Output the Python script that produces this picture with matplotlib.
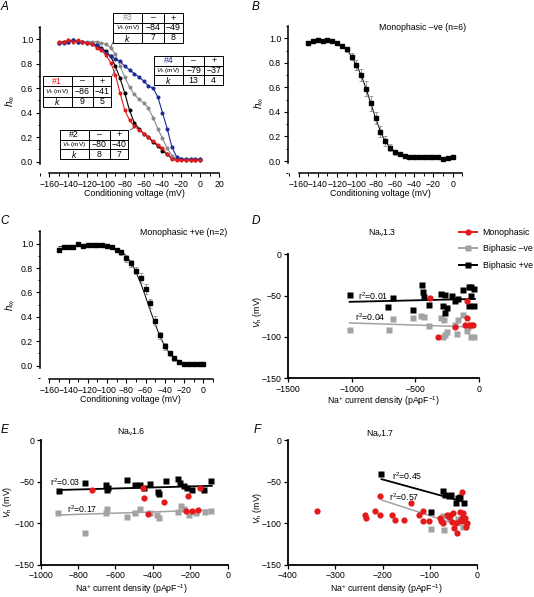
import matplotlib
matplotlib.use('Agg')
import matplotlib.pyplot as plt
from matplotlib.lines import Line2D
from matplotlib.ticker import MultipleLocator, FormatStrFormatter

# ---------------- data ----------------
# conditioning voltages (mV), panels A-C
volt = [-150, -145, -140, -135, -130, -125, -120, -115, -110, -105,
        -100, -95, -90, -85, -80, -75, -70, -65, -60, -55, -50, -45, -40,
        -35, -30, -25, -20, -15, -10, -5, 0]

# panel A, four cells
cell1 = [.98, .98, .99, .98, .99, .98, .97, .96, .93, .91,
         .87, .81, .71, .56, .42, .34, .29, .26, .23, .20, .17, .14, .11, .06, .02, .01,
         .01, .01, .01, .01, .01]
cell2 = [.97, .98, .98, .99, .98, .98, .97, .97, .95, .93,
         .90, .86, .78, .68, .56, .42, .32, .27, .23, .20, .16, .13, .09, .06, .03, .02,
         .02, .01, .01, .01, .01]
cell3 = [.98, .98, .99, .99, .98, .98, .98, .98, .98, .97,
         .96, .93, .88, .78, .69, .61, .55, .51, .48, .44, .36, .27, .19, .11, .05, .02,
         .02, .02, .02, .02, .02]
cell4 = [.97, .97, .98, .99, .98, .98, .97, .96, .95, .92,
         .89, .86, .84, .82, .78, .75, .72, .69, .66, .62, .60, .53, .40, .27, .12, .04,
         .02, .02, .02, .02, .02]
tables = {
    '#1': (['−86', '−41'], ['9', '5']),
    '#2': (['−80', '−40'], ['8', '7']),
    '#3': (['−84', '−49'], ['7', '8']),
    '#4': (['−79', '−37'], ['13', '4']),
}

# panel B, monophasic -ve (mean, sem)
mono_neg = [.96, .98, .99, .98, .985, .98, .96, .94, .91, .85,
            .78, .70, .59, .47, .35, .24, .16, .11, .07, .06, .045, .035, .03, .03, .03, .03,
            .03, .03, .02, .025, .03]
mono_neg_sem = [.01, .01, .01, .01, .01, .01, .01, .015, .02, .03,
                .04, .05, .06, .06, .05, .045, .04, .03, .02, .015, .01, .005, .005, .005,
                .005, .005, .005, .005, .005, .005, .005]

# panel C, monophasic +ve (mean, sem, fit)
mono_pos = [.95, .97, .97, .97, .995, .98, .99, .99, .99, .99,
            .985, .97, .95, .93, .88, .84, .78, .72, .63, .51, .37, .25, .16, .10, .06, .03,
            .015, .012, .012, .012, .012]
mono_pos_sem = [.01, .01, .01, .01, .01, .01, .01, .01, .01, .01,
                .01, .01, .01, .02, .03, .03, .03, .04, .04, .04, .04, .03, .03, .02, .02, .01,
                .005, .005, .005, .005, .005]
mono_pos_fit = [.975, .977, .979, .98, .98, .98, .98, .98, .98, .979,
                .976, .97, .957, .935, .90, .845, .77, .675, .565, .45, .34, .24, .16, .10, .06,
                .035, .02, .015, .012, .011, .01]

# panel D, Nav1.3
d_mono_x = [-385, -320, -190, -110, -95, -90, -75, -60, -45]
d_mono_y = [-53, -100, -88, -86, -77, -57, -86, -85, -85]
d_neg_x = [-1015, -708, -674, -517, -452, -432, -393, -297, -276, -284, -263, -249, -184,
           -171, -160, -121, -94, -87, -60, -35]
d_neg_y = [-92, -92, -78, -77, -75, -76, -87, -77, -79, -100, -98, -94, -86, -96, -80, -73,
           -93, -88, -100, -100]
d_pos_x = [-1013, -711, -672, -515, -449, -441, -430, -393, -297, -281, -268, -263, -249,
           -210, -184, -160, -126, -76, -58, -60, -76, -35, -35]
d_pos_y = [-49, -64, -53, -67, -37, -46, -52, -61, -48, -62, -49, -71, -65, -50, -57, -54,
           -43, -40, -40, -51, -62, -42, -63]
d_fit_x = [-1015, -30]
d_fit_pos = [-57.5, -54]
d_fit_neg = [-83, -88]

# panel E, Nav1.6
e_mono_x = [-724, -451, -447, -339, -425, -211, -225, -193, -157, -148]
e_mono_y = [-60, -58, -70, -74, -89, -67, -85, -85, -84, -58]
e_neg_x = [-906, -763, -652, -645, -537, -496, -467, -415, -379, -370, -266, -250, -232,
           -205, -171, -123, -87]
e_neg_y = [-87, -111, -87, -83, -92, -87, -83, -88, -90, -93, -86, -79, -83, -90, -87, -86, -85]
e_pos_x = [-900, -763, -652, -647, -641, -537, -496, -469, -445, -415, -374, -368, -330,
           -264, -255, -232, -220, -193, -127, -91]
e_pos_y = [-61, -51, -54, -60, -57, -48, -54, -54, -58, -53, -62, -65, -49, -47, -52, -55,
           -57, -60, -60, -49]
e_fit_x = [-905, -85]
e_fit_pos = [-60, -55]
e_fit_neg = [-90, -84]

# panel F, Nav1.7
f_mono_x = [-338, -236, -235, -216, -205, -205, -180, -173, -155, -140, -123, -114, -114,
            -102, -79, -76, -73, -63, -58, -53, -50, -48, -42, -37, -32, -32, -30, -27, -25,
            -23, -21, -45, -60, -35]
f_mono_y = [-85, -90, -93, -85, -90, -67, -90, -96, -96, -76, -90, -85, -97, -97, -94, -97,
            -99, -90, -90, -98, -88, -105, -112, -86, -94, -62, -88, -97, -93, -104, -100,
            -100, -92, -97]
f_neg_x = [-98, -72, -70, -58, -40, -30]
f_neg_y = [-107, -91, -108, -95, -95, -104]
f_pos_x = [-203, -97, -72, -68, -60, -55, -45, -40, -35, -28]
f_pos_y = [-41, -86, -61, -66, -67, -66, -76, -70, -68, -75]
f_fit_pos_x = [-202, -29]
f_fit_pos = [-47, -74]
f_fit_neg_x = [-202, -28]
f_fit_neg = [-72, -104]

# ---------------- style ----------------
RED = '#e3191c'
GREY = '#a3a3a3'
DGREY = '#8a8a8a'
BLUE = '#1d2a96'
FS = 6.3

plt.rcParams['font.family'] = ['Liberation Sans', 'DejaVu Sans']
plt.rcParams['font.size'] = FS
plt.rcParams['mathtext.fontset'] = 'custom'
plt.rcParams['mathtext.rm'] = 'Liberation Sans'
plt.rcParams['mathtext.it'] = 'Liberation Sans:italic'

W, H = 534, 597
fig = plt.figure(figsize=(W / 100, H / 100), dpi=100)


def axes_px(left, top, right, bottom):
    return fig.add_axes([left / W, 1 - bottom / H, (right - left) / W, (bottom - top) / H])


def ftext(x, y, s, **kw):
    kw.setdefault('ha', 'center')
    kw.setdefault('va', 'center')
    fig.text(x / W, 1 - y / H, s, **kw)


def style_h(ax, xlim, ylim, xmax_tick):
    ax.set_xlim(*xlim)
    ax.set_ylim(*ylim)
    for s in ('top', 'right'):
        ax.spines[s].set_visible(False)
    for s in ('left', 'bottom'):
        ax.spines[s].set_linewidth(1.1)
    ax.spines['bottom'].set_bounds(-160, xmax_tick)
    ax.spines['left'].set_bounds(-0.02, 1.1)
    ax.set_xticks(range(-160, xmax_tick + 1, 20))
    ax.xaxis.set_minor_locator(MultipleLocator(10))
    ax.set_yticks([0, 0.2, 0.4, 0.6, 0.8, 1.0])
    ax.yaxis.set_minor_locator(MultipleLocator(0.1))
    ax.yaxis.set_major_formatter(FormatStrFormatter('%.1f'))
    ax.tick_params(which='major', length=3, width=0.8, pad=2, labelsize=FS)
    ax.tick_params(which='minor', length=1.8, width=0.7)
    ax.patch.set_visible(False)


def style_v(ax, xlim, xstep):
    ax.set_xlim(*xlim)
    ax.set_ylim(-150, 0)
    for s in ('top', 'right'):
        ax.spines[s].set_visible(False)
    for s in ('left', 'bottom'):
        ax.spines[s].set_linewidth(1.3)
    ax.set_xticks(range(xlim[0], 1, xstep))
    ax.set_yticks([-150, -100, -50, 0])
    ax.tick_params(length=3, width=0.9, pad=1.5, labelsize=FS)
    ax.patch.set_visible(False)


# ---------------- panel A ----------------
boxA = (40, 27, 219, 172.7)
axA = axes_px(*boxA)
style_h(axA, (-170, 20), (-0.09, 1.1), 20)
for vals, col in ((cell2, 'black'), (cell3, DGREY), (cell4, BLUE), (cell1, RED)):
    axA.plot(volt, vals, '-o', color=col, lw=0.8, ms=2.9, mec='none', clip_on=False)


def add_table(ax, box, pos, name, color):
    l, t, r, b = box
    x0, y0, x1, y1 = pos
    fx = lambda p: (p - l) / (r - l)
    fy = lambda p: (b - p) / (b - t)
    vh, k = tables[name]
    cells = [[name, '–', '+'], ['$V_\\mathrm{h}$ (mV)'] + vh, ['$k$'] + k]
    tb = ax.table(cellText=cells, cellLoc='center', colWidths=[0.42, 0.31, 0.27],
                  bbox=[fx(x0), fy(y1), fx(x1) - fx(x0), fy(y0) - fy(y1)])
    tb.auto_set_font_size(False)
    tb.set_fontsize(FS)
    for (ri, ci), c in tb.get_celld().items():
        c.set_linewidth(0.7)
        c.set_facecolor('white')
        c.PAD = 0.02
    tb[0, 0].get_text().set_color(color)
    tb[1, 0].get_text().set_fontsize(4.6)
    tb.set_zorder(5)
    tb.set_clip_on(False)


add_table(axA, boxA, (113, 13, 183, 43), '#3', DGREY)
add_table(axA, boxA, (154, 56, 223, 85), '#4', BLUE)
add_table(axA, boxA, (43, 76, 111, 107), '#1', RED)
add_table(axA, boxA, (60, 130, 128, 159), '#2', 'black')
# leader lines from the tables to the curves
axA.annotate('', xy=(-95, 0.935), xytext=(-92.5, 0.975),
             arrowprops=dict(arrowstyle='-', lw=0.6, color='0.3', shrinkA=0, shrinkB=0))
axA.annotate('', xy=(-90, 0.75), xytext=(-94, 0.695),
             arrowprops=dict(arrowstyle='-', lw=0.6, color='0.3', shrinkA=0, shrinkB=0))
axA.annotate('', xy=(-70, 0.28), xytext=(-74.5, 0.258),
             arrowprops=dict(arrowstyle='-', lw=0.6, color='0.3', shrinkA=0, shrinkB=0))

# ---------------- panel B ----------------
axB = axes_px(288, 26, 462.3, 173.3)
style_h(axB, (-171, 10), (-0.10, 1.1), 10)
axB.plot(volt, mono_neg, '-', color='black', lw=0.7)
axB.errorbar(volt, mono_neg, yerr=mono_neg_sem, fmt='s', color='black', ms=2.8,
             ecolor='0.55', elinewidth=0.6, capsize=1.6, capthick=0.6)
ftext(422.8, 27.3, 'Monophasic –ve (n=6)')

# ---------------- panel C ----------------
axC = axes_px(40, 231.5, 213, 379.1)
style_h(axC, (-169.6, 10), (-0.11, 1.1), 10)
axC.plot(volt, mono_pos_fit, '-', color='black', lw=0.7)
axC.errorbar(volt, mono_pos, yerr=mono_pos_sem, fmt='s', color='black', ms=2.8,
             ecolor='0.55', elinewidth=0.6, capsize=1.6, capthick=0.6)
ftext(184, 232.3, 'Monophasic +ve (n=2)')

# ---------------- panel D ----------------
axD = axes_px(288, 254.3, 478.7, 378.3)
style_v(axD, (-1500, 0), 500)
axD.plot(d_fit_x, d_fit_pos, color='black', lw=1.3)
axD.plot(d_fit_x, d_fit_neg, color=GREY, lw=1.1)
axD.plot(d_neg_x, d_neg_y, 's', color=GREY, ms=4.3, mec='none')
axD.plot(d_pos_x, d_pos_y, 's', color='black', ms=4.3, mec='none')
axD.plot(d_mono_x, d_mono_y, 'o', color=RED, ms=4.5, mec='none')
axD.text(-952, -50.4, 'r$^2$=0.01', va='center', ha='left')
axD.text(-971, -75.5, 'r$^2$=0.04', va='center', ha='left')
ftext(382, 233, 'Na$_\\mathrm{v}$1.3')
handles = [Line2D([], [], color=RED, marker='o', ms=4.5, mec='none', lw=1.4),
           Line2D([], [], color=GREY, marker='s', ms=4.3, mec='none', lw=1.4),
           Line2D([], [], color='black', marker='s', ms=4.3, mec='none', lw=1.4)]
axD.legend(handles, ['Monophasic', 'Biphasic –ve', 'Biphasic +ve'], loc='upper left',
           bbox_to_anchor=(459 / W, 1 - 228 / H), bbox_transform=fig.transFigure,
           frameon=False, fontsize=6.3, handlelength=2.0, handletextpad=0.7,
           labelspacing=0.85, borderpad=0, borderaxespad=0)

# ---------------- panel E ----------------
axE = axes_px(40.7, 440, 227.7, 565)
style_v(axE, (-1000, 0), 200)
axE.plot(e_fit_x, e_fit_pos, color='black', lw=1.3)
axE.plot(e_fit_x, e_fit_neg, color=GREY, lw=1.1)
axE.plot(e_neg_x, e_neg_y, 's', color=GREY, ms=4.3, mec='none')
axE.plot(e_pos_x, e_pos_y, 's', color='black', ms=4.3, mec='none')
axE.plot(e_mono_x, e_mono_y, 'o', color=RED, ms=4.5, mec='none')
axE.text(-950, -51, 'r$^2$=0.03', va='center', ha='left')
axE.text(-861, -83, 'r$^2$=0.17', va='center', ha='left')
ftext(131, 432, 'Na$_\\mathrm{v}$1.6')

# ---------------- panel F ----------------
axF = axes_px(288, 440, 477, 565)
style_v(axF, (-400, 0), 100)
axF.plot(f_fit_pos_x, f_fit_pos, color='black', lw=1.3)
axF.plot(f_fit_neg_x, f_fit_neg, color=GREY, lw=1.1)
axF.plot(f_neg_x, f_neg_y, 's', color=GREY, ms=4.3, mec='none')
axF.plot(f_pos_x, f_pos_y, 's', color='black', ms=4.3, mec='none')
axF.plot(f_mono_x, f_mono_y, 'o', color=RED, ms=4.5, mec='none')
axF.text(-180, -43, 'r$^2$=0.45', va='center', ha='left')
axF.text(-187, -69, 'r$^2$=0.57', va='center', ha='left')
ftext(380, 434, 'Na$_\\mathrm{v}$1.7')

# ---------------- labels ----------------
hinf = '$h_\\infty$'
vh = '$V_\\mathrm{h}$ (mV)'
ftext(10, 101, hinf, rotation=90, fontsize=7)
ftext(259, 103, hinf, rotation=90, fontsize=7)
ftext(10, 305, hinf, rotation=90, fontsize=7)
ftext(258, 312, vh, rotation=90)
ftext(8, 502, vh, rotation=90)
ftext(258, 508, vh, rotation=90)

ftext(134, 194, 'Conditioning voltage (mV)')
ftext(380, 194, 'Conditioning voltage (mV)')
ftext(130, 399, 'Conditioning voltage (mV)')
dens = 'Na$^{+}$ current density (pApF$^{-1}$)'
ftext(383, 401, dens, va='center')
ftext(131, 589, dens)
ftext(386, 589, dens)

for lab, x, y in (('A', 5, 7), ('B', 256, 7), ('C', 5, 221), ('D', 256, 221),
                  ('E', 5, 430), ('F', 257, 430)):
    ftext(x, y, lab, fontsize=8.5, style='italic')

fig.savefig('out.png', dpi=100)
